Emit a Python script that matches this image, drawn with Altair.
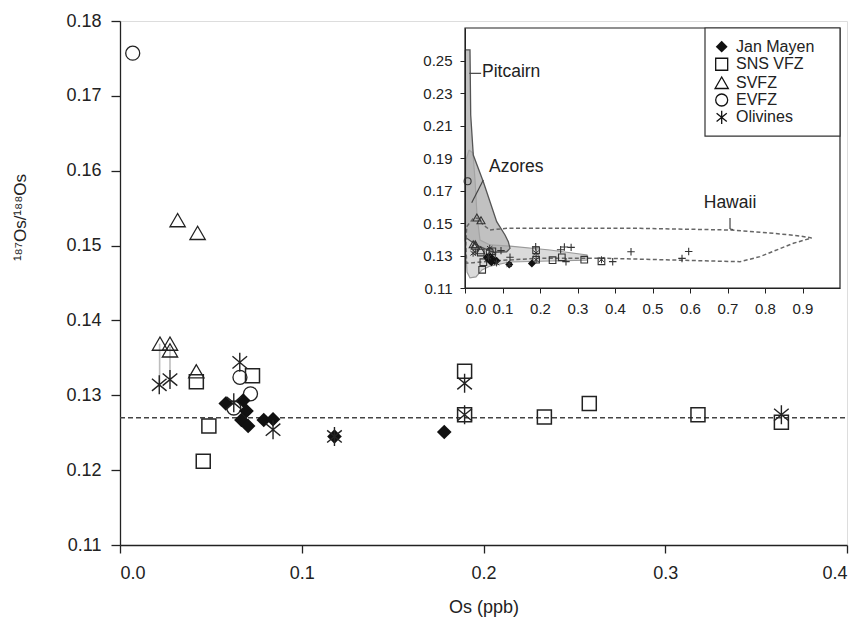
import altair as alt
import pandas as pd

# ---------------- main panel data ----------------
jm_x = [0.0582, 0.0678, 0.0696, 0.0668, 0.0705, 0.0791, 0.0842, 0.118, 0.1784]
jm_y = [0.1289, 0.1293, 0.1279, 0.1267, 0.1259, 0.1267, 0.1268, 0.1245, 0.1251]
sns_x = [0.042, 0.0729, 0.0489, 0.0458, 0.1896, 0.1896, 0.2335, 0.2582, 0.318, 0.3639]
sns_y = [0.1318, 0.1326, 0.1259, 0.1212, 0.1332, 0.1274, 0.1271, 0.1289, 0.1274, 0.1264]
svfz_x = [0.0317, 0.0427, 0.022, 0.0275, 0.0275, 0.042]
svfz_y = [0.1534, 0.1517, 0.1369, 0.1369, 0.1360, 0.1332]
evfz_x = [0.007, 0.066, 0.0718, 0.0626]
evfz_y = [0.1757, 0.1324, 0.1302, 0.1283]
oli_x = [0.0216, 0.0275, 0.0659, 0.0626, 0.0842, 0.118, 0.1896, 0.1896, 0.3639]
oli_y = [0.1314, 0.1321, 0.1344, 0.1290, 0.1254, 0.1245, 0.1316, 0.1274, 0.1274]
tie_x = [0.0218, 0.0275]
tie_y1 = [0.1369, 0.1365]
tie_y2 = [0.1314, 0.1321]
ref_value = 0.127

main_x_ticks = [0.0, 0.1, 0.2, 0.3, 0.4]
main_y_ticks = [0.11, 0.12, 0.13, 0.14, 0.15, 0.16, 0.17, 0.18]

# ---------------- inset data ----------------
inset_x_ticks = [0.0, 0.1, 0.2, 0.3, 0.4, 0.5, 0.6, 0.7, 0.8, 0.9]
inset_y_ticks = [0.11, 0.13, 0.15, 0.17, 0.19, 0.21, 0.23, 0.25]

plus_x = [0.096, 0.12, 0.1885, 0.255, 0.265, 0.283, 0.2693, 0.3939, 0.4427, 0.5787, 0.5965]
plus_y = [0.133, 0.1289, 0.1354, 0.1335, 0.1352, 0.1350, 0.1262, 0.1262, 0.1323, 0.1282, 0.1325]

pit_x = [0.0, 0.0133, 0.0152, 0.0221, 0.0488, 0.0667, 0.0845, 0.1067, 0.1155, 0.12,
         0.1112, 0.0755, 0.04, 0.0179, 0.0045, 0.0, 0.0]
pit_y = [0.2565, 0.2565, 0.2165, 0.1918, 0.1754, 0.1631, 0.1508, 0.1426, 0.1385, 0.1344,
         0.1323, 0.1320, 0.1354, 0.1385, 0.1406, 0.1395, 0.2565]

azo_x = [0.0107, 0.0213, 0.0267, 0.032, 0.04, 0.0667, 0.12, 0.2267, 0.3253, 0.3253,
         0.2267, 0.12, 0.0667, 0.0453, 0.0293, 0.0133, 0.0053, 0.0027, 0.0013, 0.0027, 0.0107]
azo_y = [0.1949, 0.1931, 0.1765, 0.1549, 0.1395, 0.1365, 0.1358, 0.1334, 0.1303, 0.1272,
         0.1266, 0.126, 0.1235, 0.1211, 0.1168, 0.1162, 0.1198, 0.1303, 0.1642, 0.1888, 0.1949]

haw_x = [0.0045, 0.0221, 0.0355, 0.0488, 0.0667, 0.1112, 0.4667, 0.7067, 0.8221, 0.8933,
         0.9245, 0.8755, 0.7867, 0.7333, 0.5555, 0.3779, 0.2, 0.1112, 0.0221, 0.0045, 0.002, 0.0045]
haw_y = [0.1477, 0.1529, 0.1529, 0.1488, 0.1457, 0.1467, 0.1467, 0.1457, 0.1437, 0.142,
         0.1408, 0.1375, 0.1293, 0.1262, 0.1272, 0.1283, 0.1283, 0.1272, 0.1256, 0.1252, 0.1365, 0.1477]

field_labels = ["Pitcairn", "Azores", "Hawaii"]
field_label_x = [0.0453, 0.064, 0.7067]
field_label_y = [0.2429, 0.1845, 0.1623]
field_label_align = ["left", "left", "center"]
leader_x1 = [0.0115, 0.0488, 0.7067, 0.7067]
leader_y1 = [0.2421, 0.1765, 0.1531, 0.1463]
leader_x2 = [0.043, 0.0179, 0.7067, 0.715]
leader_y2 = [0.2421, 0.1625, 0.1463, 0.1460]

legend_names = ["Jan Mayen", "SNS VFZ", "SVFZ", "EVFZ", "Olivines"]
legend_rows_y = [0.2585, 0.2477, 0.2363, 0.2257, 0.2150]
legend_sym_x = 0.6845
legend_txt_x = 0.7227
legend_box = [0.64, 1.0, 0.2035, 0.27]
inset_box = [0.0, 1.0, 0.11, 0.27]

# ---------------- layout / style ----------------
W, H = 727, 524
FONT = "Liberation Sans, Arial, sans-serif"
INK = "#222222"
ASTER = "M0,-1L0,1M-0.77,-0.64L0.77,0.64M-0.77,0.64L0.77,-0.64"
PLUS = "M-1,0L1,0M0,-1L0,1"

XM = alt.Scale(domain=[0, 0.4], nice=False, zero=False)
YM = alt.Scale(domain=[0.11, 0.18], nice=False, zero=False)
XI = alt.Scale(domain=[0, 1.0], range=[345, 720], nice=False, zero=False)
YI = alt.Scale(domain=[0.11, 0.27], range=[267, 7], nice=False, zero=False)

xa_main = alt.Axis(values=main_x_ticks, format=".1f", title="Os (ppb)", grid=False,
                   tickSize=8, labelPadding=11, labelFont=FONT, labelFontSize=18,
                   titleFont=FONT, titleFontSize=18, titleFontWeight="normal",
                   titleY=67, titleBaseline="alphabetic", labelColor=INK, titleColor=INK,
                   domainColor=INK, tickColor=INK, domainWidth=1.3, tickWidth=1.3)
ya_main = alt.Axis(values=main_y_ticks, format=".2f", title="¹⁸⁷Os/¹⁸⁸Os", grid=False,
                   tickSize=9, labelPadding=10, labelFont=FONT, labelFontSize=18,
                   titleFont=FONT, titleFontSize=17, titleFontWeight="normal",
                   titleX=-100, titleY=196, titleAlign="center", titleBaseline="middle",
                   labelColor=INK, titleColor=INK, domainColor=INK, tickColor=INK,
                   domainWidth=1.3, tickWidth=1.3)
xa_in = alt.Axis(orient="bottom", offset=-257, values=inset_x_ticks, format=".1f", title=None,
                 grid=False, tickSize=5, labelPadding=8, labelFont=FONT, labelFontSize=15,
                 labelColor=INK, domainColor=INK, tickColor=INK, zindex=2)
ya_in = alt.Axis(orient="left", offset=-345, values=inset_y_ticks, format=".2f", title=None,
                 grid=False, tickSize=5, labelPadding=8, labelFont=FONT, labelFontSize=15,
                 labelColor=INK, domainColor=INK, tickColor=INK, zindex=2)


def xm(f="x"):
    return alt.X(f"{f}:Q", scale=XM, axis=xa_main)


def ym(f="y"):
    return alt.Y(f"{f}:Q", scale=YM, axis=ya_main)


def xi(f="x"):
    return alt.X(f"{f}:Q", scale=XI, axis=xa_in)


def yi(f="y"):
    return alt.Y(f"{f}:Q", scale=YI, axis=ya_in)


def df(xs, ys):
    return pd.DataFrame({"x": xs, "y": ys})


# ---------------- main layers ----------------
ties = alt.Chart(pd.DataFrame({"x": tie_x, "y": tie_y1, "y2": tie_y2})).mark_rule(
    color="#bdbdbd", strokeWidth=1.6).encode(x=xm(), y=ym(), y2="y2:Q")
ref = alt.Chart(pd.DataFrame({"x": [0.0], "x2": [0.4], "y": [ref_value]})).mark_rule(
    color="#444444", strokeWidth=1.5, strokeDash=[5, 3]).encode(x=xm(), x2="x2:Q", y=ym())
sq = alt.Chart(df(sns_x, sns_y)).mark_point(shape="square", size=196, filled=False,
                                            color=INK, strokeWidth=1.5, opacity=1).encode(x=xm(), y=ym())
ci = alt.Chart(df(evfz_x, evfz_y)).mark_point(shape="circle", size=196, filled=False,
                                              color=INK, strokeWidth=1.3, opacity=1).encode(x=xm(), y=ym())
tr = alt.Chart(df(svfz_x, svfz_y)).mark_point(shape="triangle-up", size=235, filled=False,
                                              color=INK, strokeWidth=1.3, opacity=1).encode(x=xm(), y=ym())
dm = alt.Chart(df(jm_x, jm_y)).mark_point(shape="diamond", size=215, filled=True,
                                          color="#111111", opacity=1).encode(x=xm(), y=ym())
ol = alt.Chart(df(oli_x, oli_y)).mark_point(shape=ASTER, size=361, filled=False,
                                            color=INK, strokeWidth=1.4, opacity=1).encode(x=xm(), y=ym())
main = alt.layer(ties, ref, sq, ci, tr, dm, ol)

# ---------------- inset layers ----------------
frame = alt.Chart(pd.DataFrame({"x": [inset_box[0]], "x2": [inset_box[1]],
                                "y": [inset_box[2]], "y2": [inset_box[3]]})).mark_rect(
    fill="white", stroke=INK, strokeWidth=1.2).encode(x=xi(), x2="x2:Q", y=yi(), y2="y2:Q")


def poly(xs, ys, **kw):
    d = pd.DataFrame({"x": xs, "y": ys, "i": list(range(len(xs)))})
    return alt.Chart(d).mark_line(**kw).encode(x=xi(), y=yi(), order="i:Q")


azo = poly(azo_x, azo_y, fill="#dadada", stroke="#9a9a9a", strokeWidth=1.2)
pit = poly(pit_x, pit_y, fill="#a6a6a6", fillOpacity=0.7, stroke="#555555", strokeWidth=1.3)
haw = poly(haw_x, haw_y, stroke="#666666", strokeWidth=1.5, strokeDash=[4, 2.5])

lead = alt.Chart(pd.DataFrame({"x": leader_x1, "y": leader_y1, "x2": leader_x2, "y2": leader_y2})).mark_rule(
    color="#444444", strokeWidth=1.2).encode(x=xi(), y=yi(), x2="x2:Q", y2="y2:Q")
lab_df = pd.DataFrame({"x": field_label_x, "y": field_label_y, "t": field_labels, "a": field_label_align})
lab = alt.Chart(lab_df).transform_filter("datum.a == 'left'").mark_text(
    align="left", baseline="middle", font=FONT, fontSize=17.5, color=INK).encode(x=xi(), y=yi(), text="t:N")
lab2 = alt.Chart(lab_df).transform_filter("datum.a == 'center'").mark_text(
    align="center", baseline="middle", font=FONT, fontSize=17.5, color=INK).encode(x=xi(), y=yi(), text="t:N")

pl = alt.Chart(df(plus_x, plus_y)).mark_point(shape=PLUS, size=56, filled=False, color="#333333",
                                              strokeWidth=1.1, opacity=1).encode(x=xi(), y=yi())
isq = alt.Chart(df(sns_x, sns_y)).mark_point(shape="square", size=44, filled=False, color="#333333",
                                             strokeWidth=1.1, opacity=1).encode(x=xi(), y=yi())
ici = alt.Chart(df(evfz_x, evfz_y)).mark_point(shape="circle", size=49, filled=False, color="#333333",
                                               strokeWidth=1.1, opacity=1).encode(x=xi(), y=yi())
itr = alt.Chart(df(svfz_x, svfz_y)).mark_point(shape="triangle-up", size=64, filled=False, color="#333333",
                                               strokeWidth=1.1, opacity=1).encode(x=xi(), y=yi())
idm = alt.Chart(df(jm_x, jm_y)).mark_point(shape="diamond", size=64, filled=True, color="#111111",
                                           opacity=1).encode(x=xi(), y=yi())
iol = alt.Chart(df(oli_x, oli_y)).mark_point(shape=ASTER, size=49, filled=False, color="#333333",
                                             strokeWidth=1.0, opacity=1).encode(x=xi(), y=yi())

# legend (inside the inset)
lbox = alt.Chart(pd.DataFrame({"x": [legend_box[0]], "x2": [legend_box[1]],
                               "y": [legend_box[2]], "y2": [legend_box[3]]})).mark_rect(
    fill="white", stroke="#333333", strokeWidth=1.2).encode(x=xi(), x2="x2:Q", y=yi(), y2="y2:Q")
leg_shapes = ["diamond", "square", "triangle-up", "circle", ASTER]
leg_sizes = [140, 144, 175, 144, 175]
leg_layers = []
for i, (shp, sz) in enumerate(zip(leg_shapes, leg_sizes)):
    leg_layers.append(
        alt.Chart(df([legend_sym_x], [legend_rows_y[i]])).mark_point(
            shape=shp, size=sz, filled=(i == 0), color="#111111", strokeWidth=1.3, opacity=1
        ).encode(x=xi(), y=yi())
    )
ltxt = alt.Chart(pd.DataFrame({"x": [legend_txt_x] * len(legend_names), "y": legend_rows_y,
                               "t": legend_names})).mark_text(
    align="left", baseline="middle", font=FONT, fontSize=16, color=INK).encode(x=xi(), y=yi(), text="t:N")

inset = alt.layer(frame, azo, pit, haw, lead, lab, lab2, pl, isq, ici, itr, idm, iol,
                  lbox, *leg_layers, ltxt)

chart = alt.layer(main, inset).resolve_scale(x="independent", y="independent").properties(
    width=W, height=H, autosize=alt.AutoSizeParams(type="none"),
    padding={"left": 112, "top": 13, "right": 6, "bottom": 72},
).configure_view(stroke=INK, strokeWidth=1.3).configure(background="white")

chart.save("out.html", embed_options={"renderer": "svg", "actions": False})
